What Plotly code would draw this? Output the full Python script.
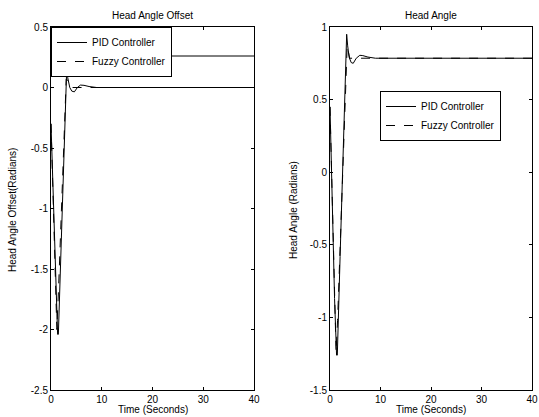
import plotly.graph_objects as go

# ---- data ----
t_pid = [0, 0.3, 0.6, 0.9, 1.3, 1.45, 2.0, 2.5, 3.1, 3.3, 3.7, 4.1, 4.6, 5.2, 5.8, 6.5, 7.5, 9.0, 15, 25, 40]
offset_pid = [-0.3, -0.75, -1.2, -1.65, -2.04, -2.04, -1.31, -0.64, 0.16, 0.08, 0.0, -0.03, -0.036, 0.0, 0.02, 0.018, 0.008, 0.0, 0.0, 0.0, 0.0]

t_fuzzy = [0, 0.3, 0.6, 0.9, 1.15, 1.5, 2.0, 2.5, 3.0, 3.3, 3.6, 4.0, 10, 20, 40]
offset_fuzzy = [-0.3, -0.78, -1.25, -1.7, -2.0, -1.65, -1.09, -0.53, 0.07, 0.06, 0.015, 0.0, 0.0, 0.0, 0.0]

t_pid_r = [0, 0.3, 0.6, 0.9, 1.3, 1.45, 2.0, 2.5, 3.3, 3.5, 3.8, 4.2, 4.6, 5.2, 5.9, 6.5, 7.5, 9.0, 15, 25, 40]
angle_pid = [0.45, 0.0, -0.45, -0.87, -1.26, -1.26, -0.58, 0.0, 0.95, 0.87, 0.79, 0.755, 0.75, 0.785, 0.805, 0.803, 0.793, 0.785, 0.785, 0.785, 0.785]

t_fuzzy_r = [0, 0.3, 0.6, 0.9, 1.2, 1.5, 2.0, 2.5, 3.0, 3.4, 3.9, 10, 20, 40]
angle_fuzzy = [0.45, -0.03, -0.5, -0.95, -1.24, -1.02, -0.53, -0.03, 0.46, 0.87, 0.785, 0.785, 0.785, 0.785]

x_ticks = [0, 10, 20, 30, 40]
y_ticks_left = [0.5, 0, -0.5, -1, -1.5, -2, -2.5]
y_ticks_right = [1, 0.5, 0, -0.5, -1, -1.5]

FONT = "Liberation Sans, Arial, Helvetica, sans-serif"

fig = go.Figure()
fig.add_trace(go.Scatter(x=t_pid, y=offset_pid, mode="lines", name="PID Controller",
                         line=dict(color="black", width=1), xaxis="x", yaxis="y", legend="legend"))
fig.add_trace(go.Scatter(x=t_fuzzy, y=offset_fuzzy, mode="lines", name="Fuzzy Controller",
                         line=dict(color="black", width=1, dash="dash"), xaxis="x", yaxis="y", legend="legend"))
fig.add_trace(go.Scatter(x=t_pid_r, y=angle_pid, mode="lines", name="PID Controller",
                         line=dict(color="black", width=1), xaxis="x2", yaxis="y2", legend="legend2"))
fig.add_trace(go.Scatter(x=t_fuzzy_r, y=angle_fuzzy, mode="lines", name="Fuzzy Controller",
                         line=dict(color="black", width=1, dash="dash"), xaxis="x2", yaxis="y2", legend="legend2"))

W, H = 539, 417
ax_common = dict(showline=True, mirror="ticks", linecolor="black", linewidth=1, automargin=False,
                 ticks="inside", ticklen=3, tickcolor="black", showgrid=False, zeroline=False,
                 tickfont=dict(size=10, color="black", family=FONT))

yd = [1 - 390 / H, 1 - 27 / H]
fig.update_layout(
    width=W, height=H, margin=dict(l=0, r=0, t=0, b=0, autoexpand=False),
    paper_bgcolor="white", plot_bgcolor="white",
    font=dict(family=FONT, size=10, color="black"),
    xaxis=dict(domain=[51 / W, 254 / W], range=[0, 40], tickvals=x_ticks, anchor="y", **ax_common),
    yaxis=dict(domain=yd, range=[-2.5, 0.5], tickvals=y_ticks_left,
               ticktext=[str(v) for v in y_ticks_left], anchor="x", **ax_common),
    xaxis2=dict(domain=[330 / W, 532 / W], range=[0, 40], tickvals=x_ticks, anchor="y2", **ax_common),
    yaxis2=dict(domain=yd, range=[-1.5, 1], tickvals=y_ticks_right,
                ticktext=[str(v) for v in y_ticks_right], anchor="x2", **ax_common),
    legend=dict(x=51 / W, y=1 - 27 / H, xanchor="left", yanchor="top",
                bordercolor="black", borderwidth=1, bgcolor="white",
                font=dict(size=10, family=FONT), tracegroupgap=0),
    legend2=dict(x=380 / W, y=1 - 116 / H, xanchor="left", yanchor="middle",
                 bordercolor="black", borderwidth=1, bgcolor="white",
                 font=dict(size=10, family=FONT), tracegroupgap=0),
    showlegend=True,
)

ann = dict(showarrow=False, font=dict(size=10, family=FONT, color="black"), xref="paper", yref="paper",
           xanchor="center", yanchor="middle")
fig.add_annotation(text="Head Angle Offset", x=(51 + 254) / 2 / W, y=1 - 15 / H, **ann)
fig.add_annotation(text="Head Angle", x=(330 + 532) / 2 / W, y=1 - 15 / H, **ann)
fig.add_annotation(text="Time (Seconds)", x=(51 + 254) / 2 / W, y=1 - 409 / H, **ann)
fig.add_annotation(text="Time (Seconds)", x=(330 + 532) / 2 / W, y=1 - 409 / H, **ann)
fig.add_annotation(text="Head Angle Offset(Radians)", x=12 / W, y=1 - 210 / H, textangle=-90, **ann)
fig.add_annotation(text="Head Angle (Radians)", x=293 / W, y=1 - 210 / H, textangle=-90, **ann)

# horizontal rule under the left legend spanning the left axes
fig.add_shape(type="line", xref="x domain", yref="paper", x0=0, x1=1, y0=1 - 56 / H, y1=1 - 56 / H,
              line=dict(color="black", width=1))

fig.write_html("out.html", config={"displayModeBar": False},
               post_script="document.body.style.margin='0px';")
